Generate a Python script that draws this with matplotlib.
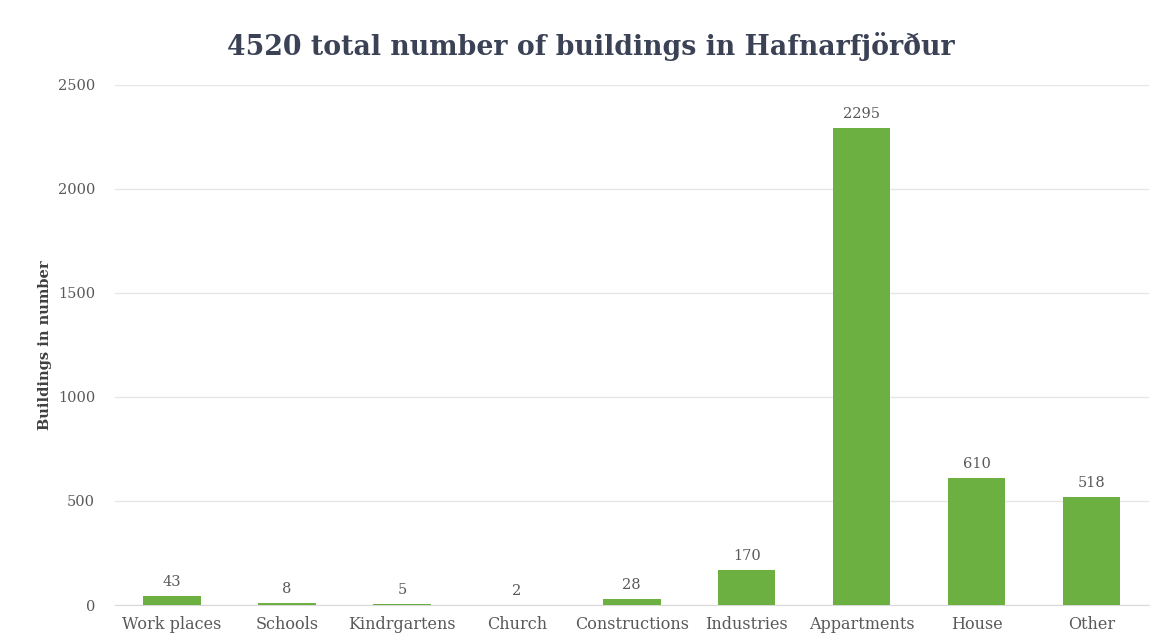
import matplotlib
matplotlib.use("Agg")
import matplotlib.pyplot as plt

categories = ["Work places", "Schools", "Kindrgartens", "Church", "Constructions",
              "Industries", "Appartments", "House", "Other"]
values = [43, 8, 5, 2, 28, 170, 2295, 610, 518]
yticks = [0, 500, 1000, 1500, 2000, 2500]

plt.rcParams['font.family'] = ['DejaVu Serif']

fig = plt.figure(figsize=(11.65, 6.39), dpi=100, facecolor='white')
ax = fig.add_axes([0.0983, 0.0532, 0.888, 0.814])
ax.set_facecolor('white')

x = range(len(categories))
bars = ax.bar(x, values, width=0.5, color='#6cb041', zorder=3)
for xi, v in zip(x, values):
    ax.annotate(str(v), (xi, v), xytext=(0, 5), textcoords='offset points',
                ha='center', va='bottom', fontsize=10.5, color='#595959')

ax.set_xlim(-0.5, len(categories) - 0.5)
ax.set_ylim(0, 2500)
ax.set_yticks(yticks)
ax.set_yticklabels([str(t) for t in yticks], fontsize=10.5, color='#595959')
ax.set_xticks(list(x))
ax.set_xticklabels(categories, fontsize=11.5, color='#595959')
ax.tick_params(axis='both', length=0, pad=8)
ax.tick_params(axis='y', pad=14)
ax.grid(axis='y', color='#e6e6e6', linewidth=1, zorder=0)
for s in ['top', 'right', 'left']:
    ax.spines[s].set_visible(False)
ax.spines['bottom'].set_color('#d9d9d9')

ax.set_ylabel("Buildings in number", fontsize=10.5, fontweight='bold', color='#404040', labelpad=4)
fig.text(0.507, 0.928, "4520 total number of buildings in Hafnarfjörður", ha='center', va='center',
         fontsize=19.3, fontweight='bold', color='#3b4256')

fig.savefig("out.png", dpi=100, facecolor='white')
